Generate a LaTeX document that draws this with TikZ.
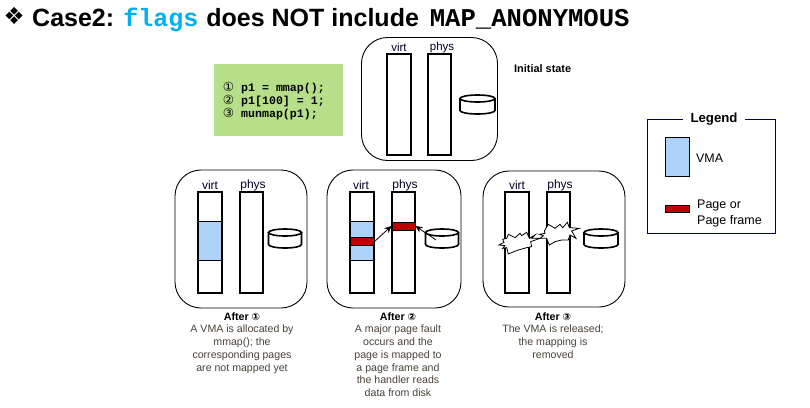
\documentclass[tikz,border=0pt]{standalone}
\usepackage{fontspec}
\setmainfont{Liberation Sans}
\setmonofont{Liberation Mono}
\newfontfamily\symf{DejaVu Sans}
\usetikzlibrary{arrows.meta}
\definecolor{vmablue}{HTML}{AFD2FA}
\definecolor{pagered}{HTML}{C00000}
\definecolor{codegreen}{HTML}{B7DF8A}
\definecolor{flagcyan}{HTML}{00B0F0}
\definecolor{capgray}{HTML}{4A4238}
\definecolor{legendnavy}{HTML}{000050}
\tikzset{
  panel/.style={draw=black,line width=0.9pt,rounded corners=26pt,inner sep=0pt,fill=none},
  bar/.style={draw=black,line width=2pt,fill=none,inner sep=0pt,minimum width=24pt,minimum height=101pt},
  physbar/.style={bar,minimum width=23pt},
  vmabox/.style={draw=black,line width=1pt,fill=vmablue,inner sep=0pt,minimum width=23pt,minimum height=39pt},
  pagebox/.style={draw=black,line width=1pt,fill=pagered,inner sep=0pt,minimum width=23pt,minimum height=8pt},
  barlabel/.style={font=\fontsize{12pt}{12pt}\selectfont,text=black!85!blue,inner sep=0pt},
  caption/.style={font=\fontsize{10.6pt}{12.9pt}\selectfont,text=capgray,align=center,inner sep=0pt,anchor=north},
  captitle/.style={font=\fontsize{10.7pt}{12pt}\selectfont\bfseries,inner sep=0pt},
  disk/.style={draw=black,line width=1.6pt,fill=white},
  burst/.style={draw=black,line width=0.8pt,fill=white,line join=miter},
  fault/.style={draw=black,line width=0.8pt,-{Stealth[length=7pt,width=6.5pt]}},
}
\newcommand{\diskshape}[3]{% left x, top y, half width
  \draw[disk] (#1,#2+3.5) -- (#1,#2+15.5) arc[start angle=180,end angle=0,x radius=#3,y radius=3.5] -- (#1+2*#3,#2+3.5);
  \draw[disk] (#1+#3,#2+3.5) ellipse[x radius=#3,y radius=3.5];
}
\newcommand{\capnum}[1]{\fontsize{10pt}{10pt}\selectfont\symf #1}
\begin{document}
\begin{tikzpicture}[x=1pt,y=-1pt]
\useasboundingbox (0,0) rectangle (810,407);
\fill[white] (0,0) rectangle (810,407);

% title
\node[anchor=base west,inner sep=0pt] (title) at (3.5,24.5) {\fontsize{23.5pt}{24pt}\selectfont\symf ❖};
\node[anchor=base west,inner sep=0pt] (titletext) at (32,26.5) {\fontsize{25pt}{28pt}\selectfont\bfseries Case2: \texttt{\textcolor{flagcyan}{flags}}\hspace{1pt} does NOT include\hspace{4pt} {\fontsize{25.6pt}{28pt}\selectfont\texttt{MAP\_ANONYMOUS}}};

% code box
\node[fill=codegreen,inner sep=0pt,minimum width=129pt,minimum height=72pt] (code) at (278.5,100) {};
\foreach \n/\sy/\txt/\yy in {c1/①/{p1 = mmap();}/91, c2/②/{p1[100] = 1;}/104, c3/③/{munmap(p1);}/117}{
  \node[anchor=base,inner sep=0pt] (\n s) at (228.5,\yy) {\fontsize{12.6pt}{12pt}\selectfont\symf \sy};
  \node[anchor=base west,inner sep=0pt] (\n) at (241,\yy) {\fontsize{11.6pt}{12pt}\selectfont\ttfamily\bfseries \txt};
}

% initial state
\node[panel,minimum width=136pt,minimum height=123pt] (p0) at (429.5,99) {};
\node[bar] (v0) at (399,104.5) {};
\node[physbar] (f0) at (439.5,104.5) {};
\node[barlabel,font=\fontsize{11.5pt}{12pt}\selectfont] (v0l) at (399,47.5) {virt};
\node[barlabel,font=\fontsize{11.5pt}{12pt}\selectfont] (f0l) at (442,47.5) {phys};
\diskshape{460}{95}{17.5}
\node[font=\fontsize{10.9pt}{12pt}\selectfont\bfseries,anchor=west,inner sep=0pt] (init) at (514,69) {Initial state};

% after 1
\node[panel,minimum width=132pt,minimum height=138pt] (p1) at (241,239) {};
\node[vmabox] (b1) at (210,241) {};
\node[bar] (v1) at (210,242.5) {};
\node[physbar] (f1) at (251.5,242.5) {};
\node[barlabel] (v1l) at (210,185) {virt};
\node[barlabel] (f1l) at (253,185) {phys};
\diskshape{268.5}{229}{16.5}

% after 2
\node[panel,minimum width=134pt,minimum height=138pt] (p2) at (394,239) {};
\node[vmabox] (b2) at (362,241) {};
\node[bar] (v2) at (362,242.5) {};
\node[pagebox,minimum width=24pt,minimum height=8pt] (rv) at (362,241.5) {};
\node[physbar] (f2) at (403.5,242.5) {};
\node[pagebox] (rf) at (403.5,226) {};
\node[barlabel] (v2l) at (361,185) {virt};
\node[barlabel] (f2l) at (405,185) {phys};
\diskshape{425.5}{229}{16.5}
\coordinate (d2) at (436,240);
\draw[fault] (rv.east) -- (rf.west);
\draw[fault] (d2) -- (rf.east);

% after 3
\node[panel,minimum width=142pt,minimum height=136pt] (p3) at (554,239) {};
\node[bar] (v3) at (517,242.5) {};
\node[physbar] (f3) at (558.5,242.5) {};
\node[barlabel] (v3l) at (517,185) {virt};
\node[barlabel] (f3l) at (560,185) {phys};
\diskshape{584}{229}{17}
\begin{scope}[shift={(490,205)},x=0.3333pt,y=-0.3333pt]
\draw[burst] (50,100)--(55,88)--(75,98)--(90,85)--(95,92)--(110,82)--(118,100)--(135,90)--(125,100)--(150,100)--(122,110)--(125,125)--(110,128)--(85,135)--(72,140)--(55,147)--(50,128)--(38,130)--(45,122)--(27,120)--(42,112)--(38,103)--cycle;
\draw[burst] (175,58)--(195,70)--(210,58)--(218,68)--(232,52)--(238,68)--(268,70)--(245,78)--(258,100)--(240,90)--(235,105)--(215,105)--(195,110)--(178,120)--(170,100)--(150,100)--(160,92)--(148,88)--(165,85)--(163,78)--cycle;
\end{scope}

% captions
\node[captitle] (a1) at (242,317) {After \capnum{①}};
\node[caption] (t1) at (242,324.5) {A VMA is allocated by\\mmap(); the\\corresponding pages\\are not mapped yet};
\node[captitle] (a2) at (398,317) {After \capnum{②}};
\node[caption] (t2) at (398,324.5) {A major page fault\\occurs and the\\page is mapped to\\a page frame and\\the handler reads\\data from disk};
\node[captitle] (a3) at (553,317) {After \capnum{③}};
\node[caption] (t3) at (553,324.5) {The VMA is released;\\the mapping is\\removed};

% legend
\node[draw=legendnavy,line width=0.9pt,inner sep=0pt,minimum width=128pt,minimum height=114pt] (lg) at (711,176) {};
\node[fill=white,inner xsep=8pt,inner ysep=1pt,font=\fontsize{13.2pt}{14pt}\selectfont\bfseries] (lgt) at (714,119.5) {Legend};
\node[vmabox,minimum width=24pt] (lv) at (677,157) {};
\node[pagebox,minimum width=24pt,minimum height=7pt] (lp) at (677,208.5) {};
\node[anchor=west,inner sep=0pt,font=\fontsize{12.4pt}{13pt}\selectfont] (lvt) at (696,158) {VMA};
\node[anchor=west,inner sep=0pt,align=left,font=\fontsize{12.5pt}{16pt}\selectfont] (lpt) at (697,213) {Page or\\Page frame};
\end{tikzpicture}
\end{document}
